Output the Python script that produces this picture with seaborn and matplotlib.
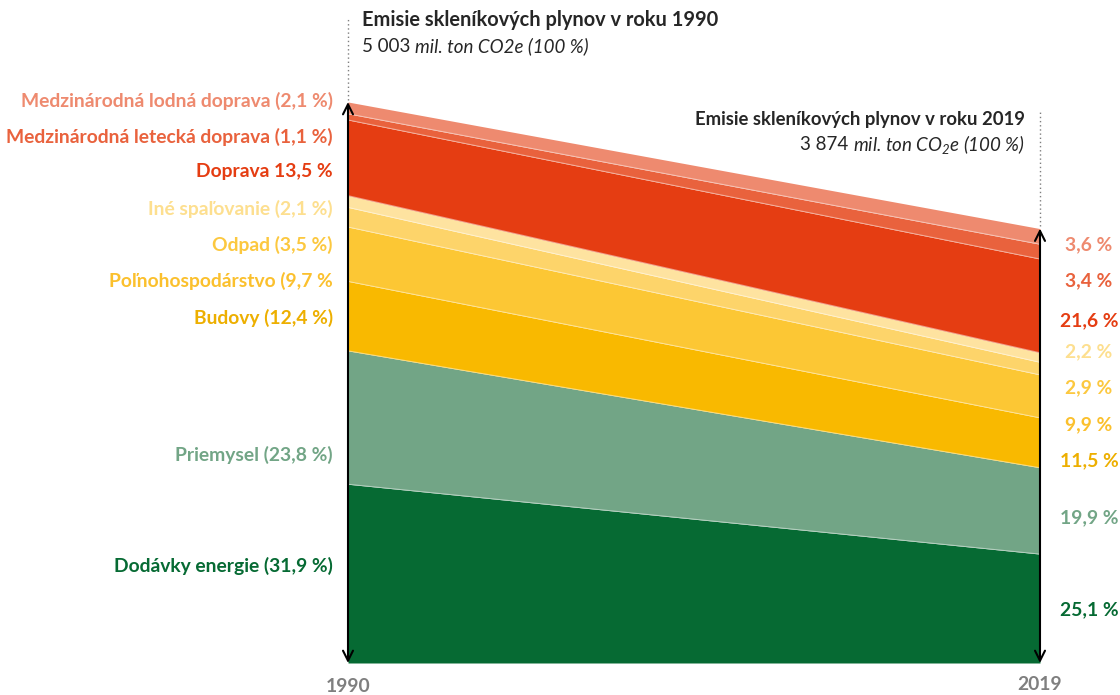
import numpy as np
import pandas as pd
import matplotlib.pyplot as plt
import seaborn as sns

# data
years = [1990, 2019]
totals = [5003, 3874]
sectors = ['Dodávky energie', 'Priemysel', 'Budovy', 'Poľnohospodárstvo', 'Odpad',
           'Iné spaľovanie', 'Doprava', 'Medzinárodná letecká doprava',
           'Medzinárodná lodná doprava']
share_1990 = [31.9, 23.8, 12.4, 9.7, 3.5, 2.1, 13.5, 1.1, 2.1]
share_2019 = [25.1, 19.9, 11.5, 9.9, 2.9, 2.2, 21.6, 3.4, 3.6]
labels_left = ['Dodávky energie (31,9 %)', 'Priemysel (23,8 %)', 'Budovy (12,4 %)',
               'Poľnohospodárstvo (9,7 %', 'Odpad (3,5 %)', 'Iné spaľovanie (2,1 %)',
               'Doprava 13,5 %', 'Medzinárodná letecká doprava (1,1 %)',
               'Medzinárodná lodná doprava (2,1 %)']
labels_right = ['25,1 %', '19,9 %', '11,5 %', '9,9 %', '2,9 %', '2,2 %', '21,6 %', '3,4 %', '3,6 %']
colors = ['#066A33', '#72A586', '#F9B900', '#FCC734', '#FDD46A', '#FEE3A0',
          '#E53D12', '#E9623D', '#EE8A6F']
text_colors = ['#066A33', '#72A586', '#EDAF00', '#FBC02D', '#FCC83F', '#FDDF8F',
               '#E53D12', '#E9623D', '#EE8A6F']

# label positions (pixel rows of the picture, converted below)
left_rows = [566, 455, 318, 281, 245, 209, 172, 137, 101]
right_rows = [610, 518, 461, 425, 388, 352, 321, 281, 245]

# emissions per sector (mil. t)
vals = np.array([[totals[0] * s / 100 for s in share_1990],
                 [totals[1] * s / 100 for s in share_2019]]).T
vals = vals / vals.sum(axis=0) * np.array(totals)
tops = np.cumsum(vals, axis=0)

sns.set_style('white')
plt.rcParams['font.family'] = ['Lato', 'DejaVu Sans']
plt.rcParams['mathtext.fontset'] = 'custom'
plt.rcParams['mathtext.rm'] = 'Lato:italic'
plt.rcParams['mathtext.it'] = 'Lato:italic'

W, H = 1120, 695
fig = plt.figure(figsize=(W / 100, H / 100), dpi=100)
ax = fig.add_axes([0, 0, 1, 1])

# map pixel layout: 1990 -> x=348px, 2019 -> x=1040px; y=0 -> 663px, 5003 -> 102px
xs = (years[1] - years[0]) / (1040 - 348)
ys = totals[0] / (663 - 102)
ax.set_xlim(years[0] - 348 * xs, years[0] + (W - 348) * xs)
ax.set_ylim(-(H - 663) * ys, 663 * ys)
ax.axis('off')

def py(row):
    return (663 - row) * ys

def px(col):
    return years[0] + (col - 348) * xs

ax.stackplot(years, vals, colors=colors, linewidth=0)

# thin white separators between the layers
bounds = pd.DataFrame({
    'year': years * (len(sectors) - 1),
    'top': tops[:-1].ravel(),
    'sector': np.repeat(sectors[:-1], 2),
})
sns.lineplot(data=bounds, x='year', y='top', units='sector', estimator=None,
             color='white', lw=0.7, alpha=0.45, ax=ax, legend=False)

# double arrows
for yr, tot in zip(years, totals):
    ax.annotate('', xy=(yr, tot), xytext=(yr, 0),
                arrowprops=dict(arrowstyle='<->', color='black', lw=1.5,
                                mutation_scale=18, shrinkA=0, shrinkB=0))
ax.plot([years[0]] * 2, [totals[0] + 20, py(18)], ls=(0, (1, 2)), color='#7f7f7f', lw=1)
ax.plot([years[1]] * 2, [totals[1] + 20, py(110)], ls=(0, (1, 2)), color='#7f7f7f', lw=1)

fs = 13.9
for lab, c, r in zip(labels_left, text_colors, left_rows):
    ax.text(px(333), py(r), lab, color=c, fontsize=fs, fontweight='bold', ha='right', va='center')
for lab, c, r in zip(labels_right, text_colors, right_rows):
    ax.text(px(1089), py(r), lab, color=c, fontsize=fs, fontweight='bold', ha='center', va='center')

# headers
ax.text(px(362), py(20), 'Emisie skleníkových plynov v roku 1990', fontsize=14.4,
        fontweight='bold', ha='left', va='center')
t = ax.text(px(362), py(46), '5 003 ', fontsize=13.5, ha='left', va='center')
ax.annotate('mil. ton CO2e (100 %)', xy=(1, 0.5), xycoords=t, fontsize=13.5,
            style='italic', ha='left', va='center')

ax.text(px(1025), py(120), 'Emisie skleníkových plynov v roku 2019', fontsize=13.3,
        fontweight='bold', ha='right', va='center')
t2 = ax.text(px(1025), py(145), r'mil. ton CO$_2$e (100 %)', fontsize=13.5,
             style='italic', ha='right', va='center')
ax.annotate('3 874 ', xy=(0, 0.5), xycoords=t2, fontsize=13.5, ha='right', va='center')

ax.text(years[0], py(686), '1990', color='#7f7f7f', fontsize=fs, fontweight='bold',
        ha='center', va='center')
ax.text(years[1], py(684), '2019', color='#7f7f7f', fontsize=fs, fontweight='bold',
        ha='center', va='center')

fig.savefig('out.png', dpi=100)
